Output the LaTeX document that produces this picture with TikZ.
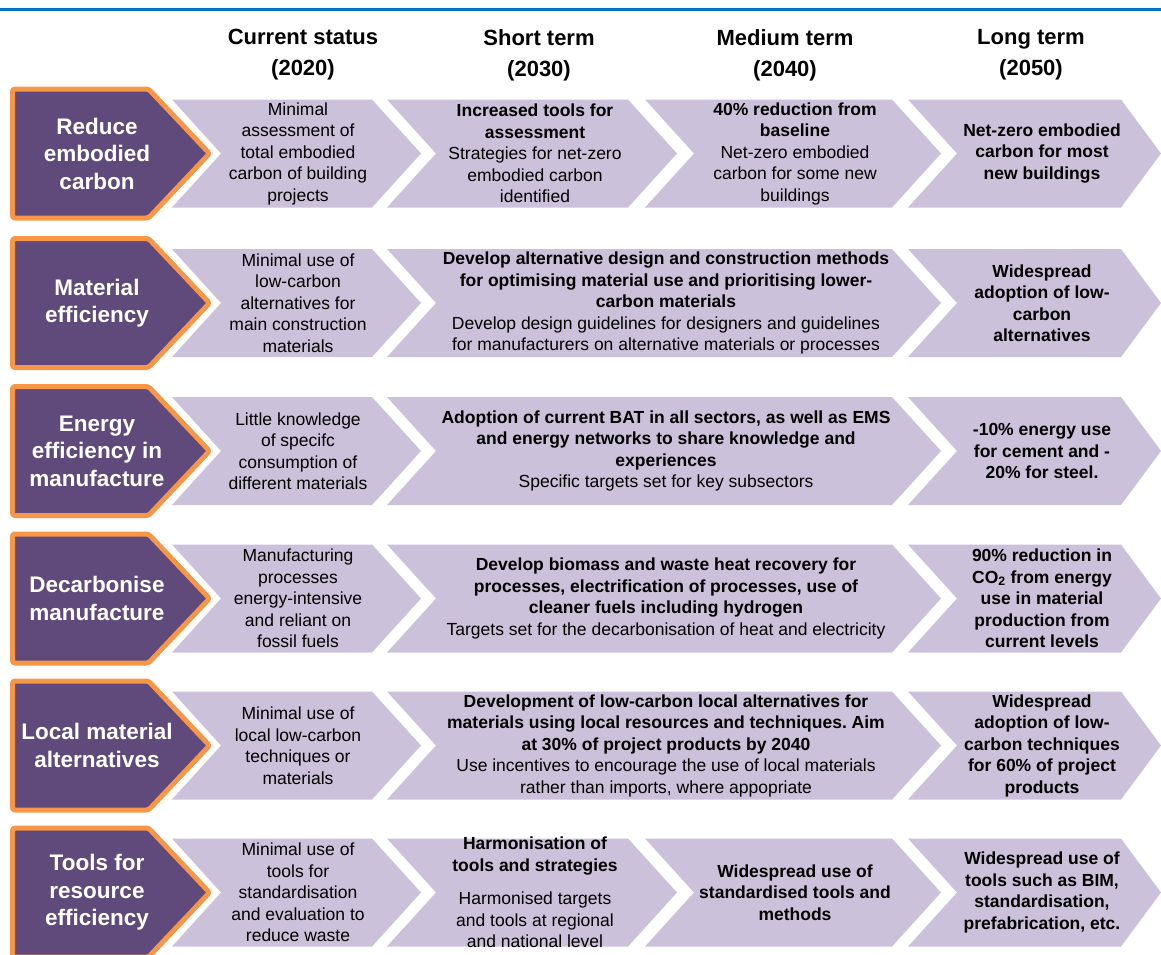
\documentclass[tikz,border=0pt]{standalone}
\usepackage{fontspec}
\setmainfont{Liberation Sans}
\frenchspacing
\definecolor{purpfill}{HTML}{604A7B}
\definecolor{orangeedge}{HTML}{F79646}
\definecolor{chevgray}{HTML}{CCC1DA}
\definecolor{rulblue}{HTML}{0070C0}
\newcommand\mychev[3]{% left, right, mid
  \fill[chevgray] (#1,#3-54) -- (#2,#3-54) -- (#2+49,#3) -- (#2,#3+54) -- (#1,#3+54) -- (#1+49,#3) -- cycle;}
\newcommand\mylastchev[3]{%
  \fill[chevgray] (#1,#3-54) -- (#2,#3-54) -- (#2+40,#3) -- (#2,#3+54) -- (#1,#3+54) -- (#1+49,#3) -- cycle;}
\newcommand\mypurp[1]{% mid
  \draw[purpbox] (12.5,#1-64.5) -- (148.5,#1-64.5) -- (209.5,#1) -- (148.5,#1+64.5) -- (12.5,#1+64.5) -- cycle;}
\begin{document}
\begin{tikzpicture}[x=1pt,y=-1pt,
  purpbox/.style={fill=purpfill,draw=orangeedge,line width=5pt,line join=round,rounded corners=2.5pt},
  lab/.style={text=white,font=\bfseries\fontsize{22.5}{27.5}\selectfont,align=center,inner sep=0pt},
  cell/.style={text=black,font=\fontsize{17.5}{21.5}\selectfont,align=center,inner sep=0pt},
  bcell/.style={cell,font=\bfseries\fontsize{17.5}{21.5}\selectfont},
  hdr/.style={text=black,font=\bfseries\fontsize{22}{31}\selectfont,align=center,inner sep=0pt}]
\useasboundingbox (0,0) rectangle (1161,954);
\begin{scope}
\clip (0,0) rectangle (1161,954);
% blue rule
\draw[rulblue,line width=3pt] (0,9.5) -- (1161,9.5);
% headers
\node[hdr] (h1) at (303,55) {Current status\\(2020)};
\node[hdr] (h2) at (539,55) {Short term\\(2030)};
\node[hdr] (h3) at (785,55) {Medium term\\(2040)};
\node[hdr] (h4) at (1031,55) {Long term\\(2050)};

% ---------- Row 1
\def\m{153.5}
\mypurp{\m}
\mychev{172}{372}{\m}\mychev{387}{628}{\m}\mychev{645}{892}{\m}\mylastchev{908}{1121}{\m}
\node[lab] (l1) at (97,\m) {Reduce\\embodied\\carbon};
\node[cell] (r1c1) at (298,\m) {Minimal\\assessment of\\total embodied\\carbon of building\\projects};
\node[cell] (r1c2) at (535,\m) {\textbf{Increased tools for}\\\textbf{assessment}\\Strategies for net-zero\\embodied carbon\\identified};
\node[cell] (r1c3) at (795,\m) {\textbf{40\% reduction from}\\\textbf{baseline}\\Net-zero embodied\\carbon for some new\\buildings};
\node[bcell] (r1c4) at (1042,\m) {Net-zero embodied\\carbon for most\\new buildings};

% ---------- Row 2
\def\m{303}
\mypurp{\m}
\mychev{172}{372}{\m}\mychev{387}{892}{\m}\mylastchev{908}{1121}{\m}
\node[lab] (l2) at (97,\m) {Material\\efficiency};
\node[cell] (r2c1) at (298,\m) {Minimal use of\\low-carbon\\alternatives for\\main construction\\materials};
\node[cell] (r2c2) at (666,\m) {\textbf{Develop alternative design and construction methods}\\\textbf{for optimising material use and prioritising lower-}\\\textbf{carbon materials}\\Develop design guidelines for designers and guidelines\\for manufacturers on alternative materials or processes};
\node[bcell] (r2c4) at (1042,\m) {Widespread\\adoption of low-\\carbon\\alternatives};

% ---------- Row 3
\def\m{451}
\mypurp{\m}
\mychev{172}{372}{\m}\mychev{387}{892}{\m}\mylastchev{908}{1121}{\m}
\node[lab] (l3) at (97,\m) {Energy\\efficiency in\\manufacture};
\node[cell] (r3c1) at (298,\m) {Little knowledge\\of specifc\\consumption of\\different materials};
\node[cell] (r3c2) at (666,\m) {\textbf{Adoption of current BAT in all sectors, as well as EMS}\\\textbf{and energy networks to share knowledge and}\\\textbf{experiences}\\Specific targets set for key subsectors};
\node[bcell] (r3c4) at (1042,\m) {-10\% energy use\\for cement and -\\20\% for steel.};

% ---------- Row 4
\def\m{598.5}
\mypurp{\m}
\mychev{172}{372}{\m}\mychev{387}{892}{\m}\mylastchev{908}{1121}{\m}
\node[lab] (l4) at (97,\m) {Decarbonise\\manufacture};
\node[cell] (r4c1) at (298,\m) {Manufacturing\\processes\\energy-intensive\\and reliant on\\fossil fuels};
\node[cell] (r4c2) at (666,\m) {\textbf{Develop biomass and waste heat recovery for}\\\textbf{processes, electrification of processes, use of}\\\textbf{cleaner fuels including hydrogen}\\Targets set for the decarbonisation of heat and electricity};
\node[bcell] (r4c4) at (1042,\m) {90\% reduction in\\CO\textsubscript{2} from energy\\use in material\\production from\\current levels};

% ---------- Row 5
\def\m{745.5}
\mypurp{\m}
\mychev{172}{372}{\m}\mychev{387}{892}{\m}\mylastchev{908}{1121}{\m}
\node[lab] (l5) at (97,\m) {Local material\\alternatives};
\node[cell] (r5c1) at (298,\m) {Minimal use of\\local low-carbon\\techniques or\\materials};
\node[cell] (r5c2) at (666,\m) {\textbf{Development of low-carbon local alternatives for}\\\textbf{materials using local resources and techniques. Aim}\\\textbf{at 30\% of project products by 2040}\\Use incentives to encourage the use of local materials\\rather than imports, where appopriate};
\node[bcell] (r5c4) at (1042,\m) {Widespread\\adoption of low-\\carbon techniques\\for 60\% of project\\products};

% ---------- Row 6
\def\m{892.5}
\mypurp{\m}
\mychev{172}{372}{\m}\mychev{387}{628}{\m}\mychev{645}{892}{\m}\mylastchev{908}{1121}{\m}
\node[lab] (l6) at (97,\m) {Tools for\\resource\\efficiency};
\node[cell] (r6c1) at (298,\m) {Minimal use of\\tools for\\standardisation\\and evaluation to\\reduce waste};
\node[cell] (r6c2) at (535,\m) {\textbf{Harmonisation of}\\\textbf{tools and strategies}\\[12pt]Harmonised targets\\and tools at regional\\and national level};
\node[bcell] (r6c3) at (795,\m) {Widespread use of\\standardised tools and\\methods};
\node[bcell] (r6c4) at (1042,\m) {Widespread use of\\tools such as BIM,\\standardisation,\\prefabrication, etc.};
\end{scope}
\end{tikzpicture}
\end{document}
